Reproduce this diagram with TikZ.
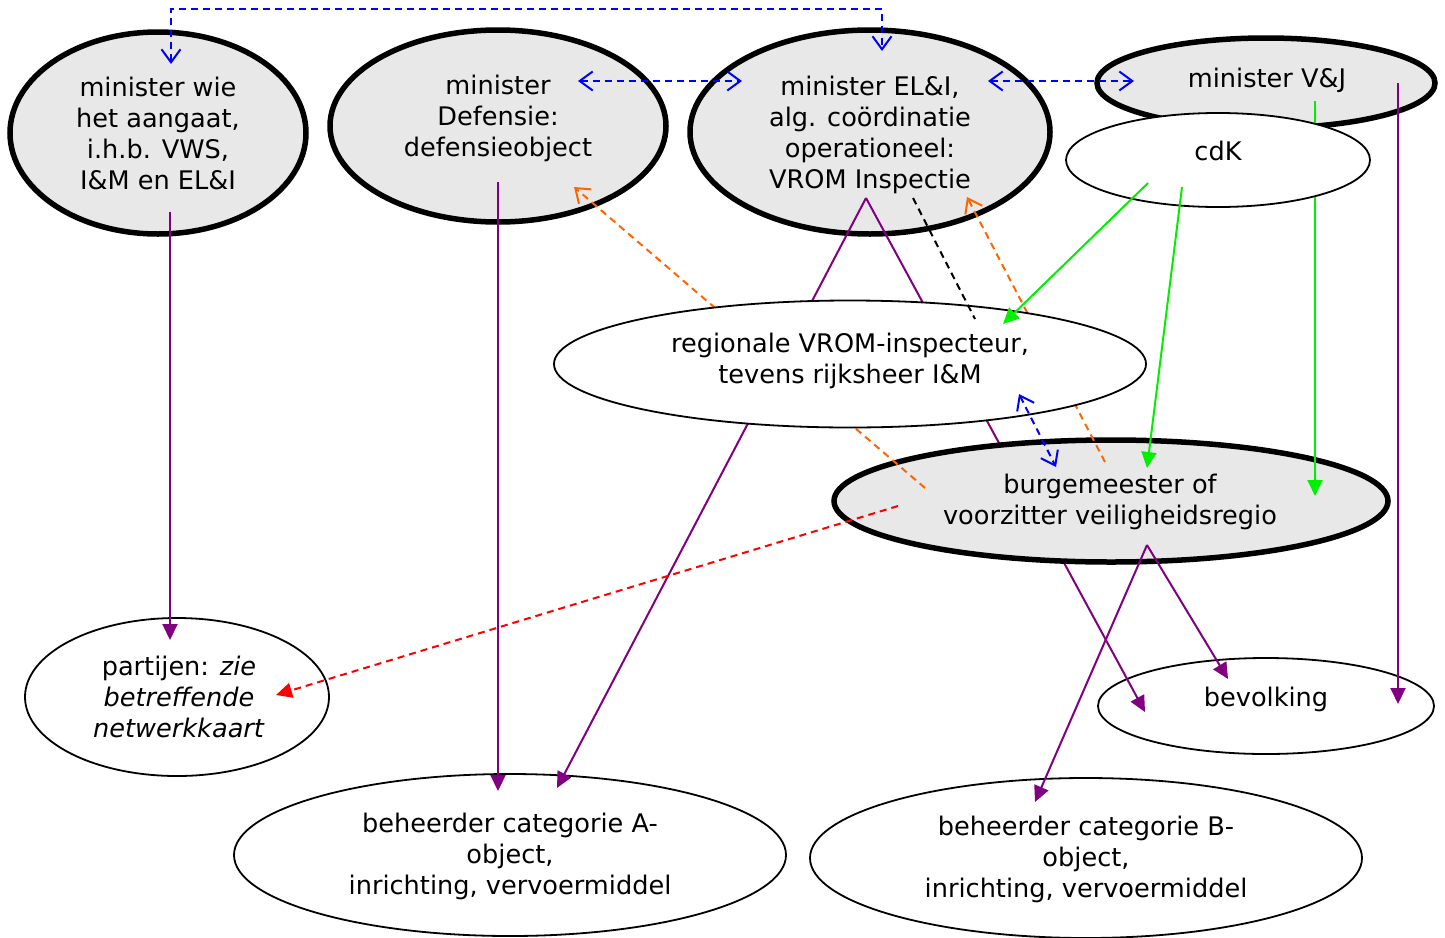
\documentclass[tikz,border=0pt]{standalone}
\usepackage{fontspec}
\setmainfont{DejaVu Sans}
\usetikzlibrary{shapes.geometric,arrows.meta}
\definecolor{gfill}{HTML}{E8E8E8}
\definecolor{cpurple}{HTML}{800080}
\definecolor{cgreen}{HTML}{00F000}
\definecolor{corange}{HTML}{FF6600}
\definecolor{cblue}{HTML}{0000FF}
\definecolor{cred}{HTML}{FF0000}
\tikzset{
  ellbase/.style={ellipse, inner sep=0pt, outer sep=0pt},
  ellthick/.style={ellbase, draw=black, line width=5.5pt, fill=gfill},
  ellthin/.style={ellbase, draw=black, line width=1.8pt, fill=white},
  txt/.style={align=center, inner sep=0pt, font=\fontsize{25.6}{31}\selectfont},
  purplearrow/.style={draw=cpurple, line width=2pt, -{Triangle[length=16pt,width=15pt]}},
  purpleline/.style={draw=cpurple, line width=2pt},
  greenarrow/.style={draw=cgreen, line width=2pt, -{Triangle[length=16pt,width=15pt]}},
  redarrow/.style={draw=cred, line width=2pt, dash pattern=on 7pt off 5pt, -{Triangle[length=16pt,width=15pt]}},
  bluedouble/.style={draw=cblue, line width=2pt, dash pattern=on 7pt off 5pt, {Straight Barb[length=13pt,width=19pt]}-{Straight Barb[length=13pt,width=19pt]}},
  orangearrow/.style={draw=corange, line width=2pt, dash pattern=on 7pt off 5pt, -{Straight Barb[length=13pt,width=19pt]}},
  blackdash/.style={draw=black, line width=2pt, dash pattern=on 7pt off 5pt},
}
\begin{document}
\begin{tikzpicture}[x=1pt,y=-1pt]
\useasboundingbox (0,0) rectangle (1445,937);
% lower white ellipses
\node[ellthin, minimum width=304pt, minimum height=158pt] (partE) at (177,697) {};
\node[ellthin, minimum width=336pt, minimum height=96pt] (bevE) at (1266,706) {};
\node[ellthin, minimum width=552pt, minimum height=162pt] (behAE) at (510,855) {};
\node[ellthin, minimum width=552pt, minimum height=160pt] (behBE) at (1086,858) {};
% top gray ellipses
\node[ellthick, minimum width=296pt, minimum height=202pt] (minE) at (158,133) {};
\node[ellthick, minimum width=336pt, minimum height=192pt] (defE) at (498,126) {};
\node[ellthick, minimum width=360pt, minimum height=204pt] (eliE) at (870,132) {};
\node[ellthick, minimum width=338pt, minimum height=90pt] (vjE) at (1266,83) {};
% coordinates
\coordinate (eliTop) at (866,198);
\coordinate (behAin) at (557,788);
\coordinate (bevIn1) at (1145,712);
% purple lines from EL&I (under burgemeester and regionale)
\draw[purplearrow] (eliTop) -- (behAin);
\draw[purplearrow] (eliTop) -- (bevIn1);
% burgemeester
\node[ellthick, minimum width=554pt, minimum height=122pt] (burE) at (1111,501) {};
% orange lines
\coordinate (or1s) at (925,488);
\coordinate (or1e) at (574,187);
\coordinate (or2s) at (1105,462);
\coordinate (or2e) at (967,197);
\draw[orangearrow] (or1s) -- (or1e);
\draw[orangearrow] (or2s) -- (or2e);
% green from V&J
\coordinate (vjG) at (1315,101);
\coordinate (burG) at (1315,496);
\draw[greenarrow] (vjG) -- (burG);
% cdK
\node[ellthin, minimum width=304pt, minimum height=94pt] (cdkE) at (1218,160) {};
% regionale
\node[ellthin, minimum width=592pt, minimum height=127pt] (regE) at (850,364) {};
% other connectors
\coordinate (minP) at (170,212);
\coordinate (partP) at (170,640);
\draw[purplearrow] (minP) -- (partP);
\coordinate (defP) at (498,182);
\coordinate (behAP) at (498,791);
\draw[purplearrow] (defP) -- (behAP);
\coordinate (vjP) at (1398,83);
\coordinate (bevP) at (1398,704);
\draw[purplearrow] (vjP) -- (bevP);
\coordinate (burP) at (1147,545);
\coordinate (behBP) at (1035,802);
\coordinate (bevP2) at (1228,679);
\draw[purplearrow] (burP) -- (behBP);
\draw[purplearrow] (burP) -- (bevP2);
\coordinate (cdkG1) at (1148,183);
\coordinate (regG) at (1003,324);
\coordinate (cdkG2) at (1182,187);
\coordinate (burG2) at (1147,468);
\draw[greenarrow] (cdkG1) -- (regG);
\draw[greenarrow] (cdkG2) -- (burG2);
\coordinate (eliB) at (913,198);
\coordinate (regB) at (975,319);
\draw[blackdash] (eliB) -- (regB);
\coordinate (burR) at (898,506);
\coordinate (partR) at (276,695);
\draw[redarrow] (burR) -- (partR);
% blue connectors
\coordinate (minB) at (171,64);
\coordinate (eliBt) at (882,51);
\coordinate (topL) at (171,9);
\coordinate (topR) at (882,9);
\draw[bluedouble] (minB) -- (topL) -- (topR) -- (eliBt);
\coordinate (defBl) at (578,81);
\coordinate (eliBl) at (742,81);
\draw[bluedouble] (defBl) -- (eliBl);
\coordinate (eliBr) at (988,81);
\coordinate (vjBl) at (1134,81);
\draw[bluedouble] (eliBr) -- (vjBl);
\coordinate (regBl) at (1019,394);
\coordinate (burBl) at (1056,467);
\draw[bluedouble] (regBl) -- (burBl);
% texts
\node[txt] (minT) at (158,133) {minister wie\\het aangaat,\\i.h.b. VWS,\\I\&M en EL\&I};
\node[txt] (defT) at (498,118) {minister\\Defensie:\\defensieobject};
\node[txt] (eliT) at (870,135) {minister EL\&I,\\alg. coördinatie\\operationeel:\\VROM Inspectie};
\node[txt] (vjT) at (1267,80) {minister V\&J};
\node[txt] (cdkT) at (1218,151) {cdK};
\node[txt] (regT) at (850,361) {regionale VROM-inspecteur,\\tevens rijksheer I\&M};
\node[txt] (burT) at (1110,502) {burgemeester of\\voorzitter veiligheidsregio};
\node[txt] (partT) at (179,697) {partijen: \textit{zie}\\\textit{betreffende}\\\textit{netwerkkaart}};
\node[txt] (bevT) at (1266,699) {bevolking};
\node[txt] (behAT) at (510,856) {beheerder categorie A-\\object,\\inrichting, vervoermiddel};
\node[txt] (behBT) at (1086,859) {beheerder categorie B-\\object,\\inrichting, vervoermiddel};
\end{tikzpicture}
\end{document}
